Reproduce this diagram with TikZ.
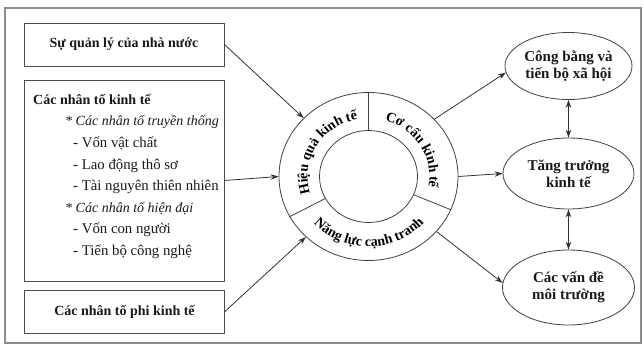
\documentclass[tikz,border=0pt]{standalone}
\usepackage{fontspec}
\setmainfont{Liberation Serif}
\usetikzlibrary{shapes.geometric,arrows.meta,decorations.text,calc}
\newcommand\ringfont{\fontsize{14}{15}\selectfont\bfseries}
\newcommand\subfont{\fontsize{14.8}{21.6}\selectfont}
\begin{document}
\begin{tikzpicture}[x=1pt,y=1pt,
  box/.style={draw=black!70, line width=0.9pt, minimum width=200pt, inner sep=0pt, font=\fontsize{14}{16}\selectfont\bfseries, text=black!90},
  oval/.style={ellipse, draw=black!75, line width=0.8pt, inner sep=0pt, align=center, font=\fontsize{15}{17}\selectfont\bfseries, text=black!90},
  arr/.style={draw=black!80, line width=0.8pt, -{Stealth[length=8pt,width=5.5pt]}},
  darr/.style={draw=black!80, line width=0.8pt, {Stealth[length=8pt,width=5.5pt]}-{Stealth[length=8pt,width=5.5pt]}},
  ringline/.style={draw=black!75, line width=0.8pt}
]
\useasboundingbox (0,0) rectangle (644,345);
\draw[black!45, line width=1.2pt] (5,2) rectangle (641,337);

% left boxes
\node[box, minimum height=43pt] (b1) at (124,300.5) {Sự quản lý của nhà nước};
\node[box, minimum height=201pt] (b2) at (124,164.5) {};
\node[box, minimum height=43pt] (b3) at (124.5,33.5) {Các nhân tố phi kinh tế};
\node[anchor=north west, align=left, inner sep=0pt, font=\fontsize{14}{21.6}\selectfont, text=black!90] (b2t) at (33,251)
  {\textbf{Các nhân tố kinh tế}\\
   \hspace*{32pt}\textit{* Các nhân tố truyền thống}\\
   \hspace*{40pt}{\subfont - Vốn vật chất}\\
   \hspace*{40pt}{\subfont - Lao động thô sơ}\\
   \hspace*{40pt}{\subfont - Tài nguyên thiên nhiên}\\
   \hspace*{32pt}\textit{* Các nhân tố hiện đại}\\
   \hspace*{40pt}{\subfont - Vốn con người}\\
   \hspace*{40pt}{\subfont - Tiến bộ công nghệ}};

% central ring
\coordinate (c) at (368.5,168.5);
\node[ellipse, ringline, minimum width=179pt, minimum height=168pt, inner sep=0pt] (ring) at (c) {};
\node[ellipse, ringline, minimum width=98pt, minimum height=92pt, inner sep=0pt] (core) at (c) {};
\draw[ringline] (core.90) -- (ring.90);
\draw[ringline] (core.-22) -- (ring.-22);
\draw[ringline] (core.207) -- (ring.207);

\path[decorate, decoration={text along path, text align=center, text={|\ringfont|Hiệu quả kinh tế}}]
  ($(c)+(212:61 and 58)$) arc[start angle=212, end angle=86, x radius=61, y radius=58];
\path[decorate, decoration={text along path, text align=center, text={|\ringfont|Cơ cấu kinh tế}}]
  ($(c)+(94:61 and 58)$) arc[start angle=94, end angle=-31, x radius=61, y radius=58];
\path[decorate, decoration={text along path, text align=center, text={|\ringfont|Năng lực cạnh tranh}}]
  ($(c)+(207:74 and 70)$) arc[start angle=207, end angle=334, x radius=74, y radius=70];

% right ellipses
\node[oval, minimum width=127pt, minimum height=67pt] (e1) at (568.5,279) {Công bằng và\\tiến bộ xã hội};
\node[oval, minimum width=131pt, minimum height=71pt] (e2) at (568.5,171.5) {Tăng trưởng\\kinh tế};
\node[oval, minimum width=132pt, minimum height=75pt] (e3) at (568.5,57.5) {Các vấn đề\\môi trường};

% connectors
\draw[arr] (b1.east) -- (ring.138);
\draw[arr] (b2.east) -- (ring.west);
\draw[arr] (b3.east) -- (ring.224);
\draw[arr] (ring.41) -- (e1.186);
\draw[arr] (ring.east) -- (e2.west);
\draw[arr] (ring.-39) -- (e3.176);
\draw[darr] (e1.south) -- (e2.north);
\draw[darr] (e2.south) -- (e3.north);
\end{tikzpicture}
\end{document}
